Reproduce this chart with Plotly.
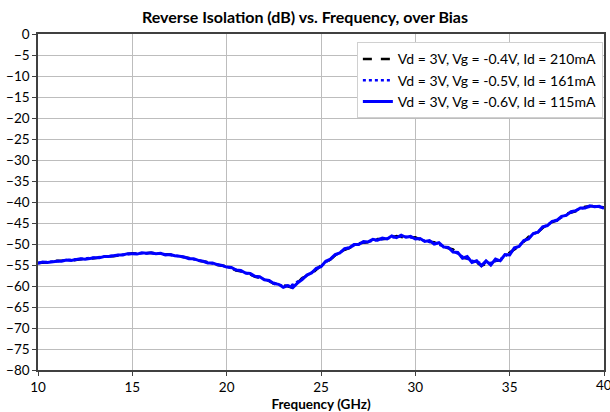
import plotly.graph_objects as go

freq_fine = [10 + 0.25 * i for i in range(121)]
freq_coarse = [10 + 0.5 * i for i in range(61)]

# Vd=3V, Vg=-0.6V, Id=115mA (solid blue), 0.25 GHz steps
iso_06 = [
    -54.6, -54.3, -54.4, -54.2, -54.1, -54.1, -53.8, -53.9, -53.7, -53.5,
    -53.6, -53.4, -53.3, -53.3, -53.0, -53.0, -52.8, -52.6, -52.6, -52.3,
    -52.3, -52.4, -52.1, -52.2, -52.1, -52.3, -52.2, -52.6, -52.5, -52.8,
    -52.9, -53.1, -53.5, -53.5, -53.9, -54.1, -54.5, -54.5, -54.9, -55.1,
    -55.5, -55.6, -56.2, -56.3, -56.9, -57.0, -57.7, -57.8, -58.5, -58.7,
    -59.4, -59.6, -60.3, -59.9, -60.4, -59.3, -58.5, -57.4, -56.9, -55.8,
    -55.4, -54.1, -53.6, -52.5, -52.1, -51.1, -50.9, -50.1, -50.1, -49.4,
    -49.5, -48.9, -49.1, -48.6, -48.8, -48.1, -48.5, -47.9, -48.4, -48.2,
    -48.8, -48.7, -49.4, -49.2, -50.0, -49.7, -50.7, -50.8, -51.9, -52.0,
    -53.4, -53.0, -54.4, -54.0, -55.2, -54.0, -55.0, -53.6, -54.0, -52.5,
    -52.6, -50.9, -50.6, -49.2, -48.8, -47.5, -47.2, -45.9, -45.6, -44.6,
    -44.4, -43.4, -43.2, -42.3, -42.1, -41.4, -41.4, -40.9, -41.1, -41.0,
    -41.5,
]

# Vd=3V, Vg=-0.4V, Id=210mA (black dashed), 0.5 GHz steps
iso_04 = [
    -54.5, -54.4, -54.0, -54.0, -53.8, -53.5, -53.4, -53.0, -52.9, -52.6,
    -52.2, -52.3, -52.1, -52.4, -52.5, -53.0, -53.3, -54.0, -54.3, -55.0,
    -55.3, -56.3, -56.7, -57.8, -58.2, -59.5, -59.8, -60.4, -58.1, -57.1,
    -55.1, -53.7, -51.8, -51.0, -49.8, -49.6, -48.8, -48.8, -48.1, -48.5,
    -48.4, -49.4, -49.6, -50.7, -51.3, -53.3, -53.6, -55.2, -54.2, -53.9,
    -52.0, -50.6, -48.3, -47.2, -45.2, -44.4, -42.8, -42.2, -41.1, -40.9,
    -41.3,
]

# Vd=3V, Vg=-0.5V, Id=161mA (blue dotted), 0.5 GHz steps
iso_05 = [
    -54.5, -54.3, -54.1, -53.9, -53.7, -53.5, -53.3, -53.1, -52.8, -52.5,
    -52.3, -52.2, -52.2, -52.3, -52.6, -52.9, -53.4, -53.9, -54.4, -54.9,
    -55.4, -56.1, -56.9, -57.6, -58.4, -59.3, -60.0, -59.7, -58.3, -56.8,
    -55.3, -53.5, -52.0, -50.8, -50.0, -49.4, -49.0, -48.6, -48.3, -48.3,
    -48.6, -49.2, -49.8, -50.5, -51.6, -53.0, -54.0, -54.6, -54.5, -53.6,
    -52.2, -50.3, -48.5, -47.0, -45.4, -44.2, -43.0, -42.0, -41.3, -41.0,
    -41.4,
]

labels = [
    "Vd = 3V, Vg = -0.4V, Id = 210mA",
    "Vd = 3V, Vg = -0.5V, Id = 161mA",
    "Vd = 3V, Vg = -0.6V, Id = 115mA",
]

x_ticks = [10, 15, 20, 25, 30, 35, 40]
y_ticks = list(range(0, -85, -5))

fig = go.Figure()
fig.add_trace(go.Scatter(x=freq_coarse, y=iso_04, mode="lines", name=labels[0],
                         line=dict(color="black", width=2.5, dash="dash")))
fig.add_trace(go.Scatter(x=freq_coarse, y=iso_05, mode="lines", name=labels[1],
                         line=dict(color="blue", width=2.5, dash="dot")))
fig.add_trace(go.Scatter(x=freq_fine, y=iso_06, mode="lines", name=labels[2],
                         line=dict(color="blue", width=3)))

tick_font = dict(family="Lato", size=13.5, color="black")

axis_common = dict(
    showline=True, linecolor="#404040", linewidth=1.5, mirror=True,
    showgrid=True, gridcolor="#bdbdbd", gridwidth=1,
    ticks="outside", ticklen=4, tickcolor="#404040",
    tickfont=tick_font,
    zeroline=False, automargin=False,
)

# last x tick label is clipped by the page edge in the original
fig.add_annotation(x=x_ticks[-1], xref="x", y=0, yref="paper", yanchor="top",
                   yshift=-5, text=str(x_ticks[-1]), showarrow=False,
                   font=tick_font)

fig.update_layout(
    width=610, height=412,
    margin=dict(l=38, r=6, t=34, b=42),
    paper_bgcolor="white", plot_bgcolor="white",
    title=dict(text="<b>Reverse Isolation (dB) vs. Frequency, over Bias</b>",
               x=0.5, xanchor="center", y=0.958, yanchor="middle",
               font=dict(family="Lato", size=16, color="black")),
    xaxis=dict(range=[10, 40], tickvals=x_ticks,
               title=dict(text="<b>Frequency (GHz)</b>", standoff=6,
                          font=dict(family="Lato", size=13.5, color="black")),
               **axis_common),
    yaxis=dict(range=[-80, 0], tickvals=y_ticks, **axis_common),
    legend=dict(x=0.998, xanchor="right", y=0.975, yanchor="top",
                bgcolor="white", bordercolor="#d0d0d0", borderwidth=1,
                font=dict(family="Lato", size=14, color="black"),
                tracegroupgap=0),
    showlegend=True,
)

fig.write_html("out.html")
